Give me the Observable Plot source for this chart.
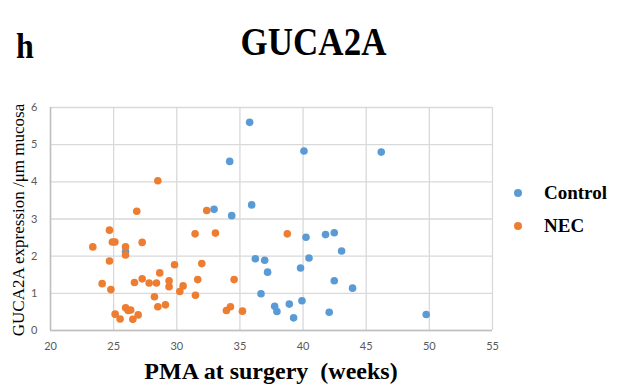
<!DOCTYPE html>
<html>
<head>
<meta charset="utf-8">
<script src="https://cdn.jsdelivr.net/npm/d3@7"></script>
<script src="https://cdn.jsdelivr.net/npm/@observablehq/plot@0.6"></script>
<style>
  html, body { margin: 0; padding: 0; background: #fff; }
  #wrap { position: relative; width: 617px; height: 388px; overflow: hidden; }
  #wrap svg { position: absolute; left: 0; top: 0; }
  .serif { font-family: "Liberation Serif", "Times New Roman", serif; color: #000; position: absolute; white-space: nowrap; }
  .panel { left: 16px; top: 25px; font-size: 32px; font-weight: bold; transform: scaleY(1.15); transform-origin: 0 0; }
  .title { left: 0; width: 627px; text-align: center; top: 19px; font-size: 35px; font-weight: bold; transform: scaleY(1.15); transform-origin: 50% 0; }
  .xtitle { left: 50px; width: 442px; text-align: center; top: 357px; font-size: 24px; font-weight: bold; line-height: 28px; }
  .ytitle { left: 19px; top: 220px; font-size: 17px; transform: translate(-50%, -50%) rotate(-90deg); line-height: 18px; }
  .legend { left: 514px; font-size: 19px; font-weight: bold; line-height: 22px; }
  .legend .dot { display: inline-block; width: 8px; height: 8px; border-radius: 50%; margin-right: 22px; vertical-align: middle; position: relative; top: -2px; }
</style>
</head>
<body>
<div id="wrap"></div>
<script>
// ---- data ----
const seriesNames = ["Control", "NEC"];
const seriesColors = ["#5B9BD5", "#ED7D31"];
const xTicks = [20, 25, 30, 35, 40, 45, 50, 55];
const yTicks = [0, 1, 2, 3, 4, 5, 6];

const controlX = [35.77, 40.07, 46.19, 34.19, 32.95, 35.93, 34.35, 40.23, 41.78, 42.47, 43.05, 36.22, 36.96, 40.47, 37.19, 39.80, 42.47, 43.92, 36.67, 37.75, 37.93, 38.91, 39.91, 39.25, 42.07, 49.75, 25.94];
const controlY = [5.60, 4.83, 4.80, 4.55, 3.26, 3.38, 3.09, 2.51, 2.58, 2.63, 2.14, 1.93, 1.89, 1.95, 1.57, 1.68, 1.34, 1.14, 0.99, 0.65, 0.51, 0.71, 0.80, 0.34, 0.49, 0.43, 2.12];

const necX = [28.50, 26.83, 32.37, 24.67, 23.35, 24.90, 25.10, 25.94, 27.26, 25.94, 31.45, 33.06, 24.67, 29.82, 31.98, 28.65, 24.09, 24.78, 26.65, 27.26, 27.81, 28.39, 29.39, 29.39, 30.50, 30.24, 31.66, 34.54, 28.23, 31.48, 28.50, 29.10, 25.12, 25.51, 25.95, 26.15, 26.35, 26.94, 26.52, 33.93, 34.25, 35.20, 38.75];
const necY = [4.03, 3.21, 3.23, 2.70, 2.25, 2.38, 2.38, 2.25, 2.37, 2.03, 2.60, 2.62, 1.87, 1.77, 1.80, 1.55, 1.26, 1.10, 1.29, 1.39, 1.28, 1.28, 1.34, 1.18, 1.20, 1.05, 1.37, 1.37, 0.91, 0.95, 0.64, 0.69, 0.44, 0.31, 0.61, 0.54, 0.55, 0.42, 0.30, 0.54, 0.64, 0.52, 2.60];

const points = [
  ...controlX.map((x, i) => ({x, y: controlY[i], group: "Control"})),
  ...necX.map((x, i) => ({x, y: necY[i], group: "NEC"}))
];

const plot = Plot.plot({
  width: 617,
  height: 388,
  marginLeft: 50,
  marginRight: 125,
  marginTop: 107,
  marginBottom: 58,
  style: { fontFamily: "Lato, 'Open Sans', sans-serif", fontSize: "11px", color: "#595959", background: "transparent" },
  x: { domain: [20, 55], ticks: xTicks },
  y: { domain: [0, 6], ticks: yTicks },
  color: { domain: seriesNames, range: seriesColors },
  marks: [
    Plot.gridX(xTicks, { stroke: "#d9d9d9", strokeOpacity: 1, strokeWidth: 1.3 }),
    Plot.gridY(yTicks, { stroke: "#d9d9d9", strokeOpacity: 1, strokeWidth: 1.3 }),
    Plot.ruleX([20], { stroke: "#bfbfbf", strokeWidth: 1.5 }),
    Plot.ruleY([0], { stroke: "#bfbfbf", strokeWidth: 1.5 }),
    Plot.axisX(xTicks, { tickSize: 0, tickPadding: 12, label: null, fill: "#595959" }),
    Plot.axisY(yTicks, { tickSize: 0, tickPadding: 13, label: null, fill: "#595959" }),
    Plot.dot(points, { x: "x", y: "y", fill: "group", r: 3.8, stroke: null })
  ]
});

const wrap = document.getElementById("wrap");
wrap.appendChild(plot);

function addText(cls, text, extraStyle) {
  const d = document.createElement("div");
  d.className = "serif " + cls;
  d.textContent = text;
  if (extraStyle) Object.assign(d.style, extraStyle);
  wrap.appendChild(d);
  return d;
}
addText("panel", "h");
addText("title", "GUCA2A");
addText("xtitle", "PMA at surgery\u00a0\u00a0(weeks)");
addText("ytitle", "GUCA2A expression /\u03bcm mucosa");

seriesNames.forEach((name, i) => {
  const d = document.createElement("div");
  d.className = "serif legend";
  d.style.top = (182 + i * 33) + "px";
  const dot = document.createElement("span");
  dot.className = "dot";
  dot.style.background = seriesColors[i];
  d.appendChild(dot);
  d.appendChild(document.createTextNode(name));
  wrap.appendChild(d);
});
</script>
</body>
</html>
